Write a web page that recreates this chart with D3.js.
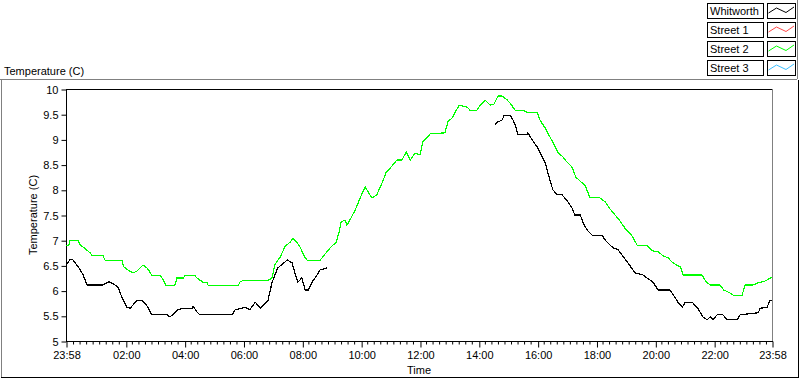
<!DOCTYPE html>
<html>
<head>
<meta charset="utf-8">
<script src="https://cdn.jsdelivr.net/npm/d3@7"></script>
<style>
  body { margin: 0; background: #fff; }
  svg { display: block; font-family: "Liberation Sans", Arial, sans-serif; font-size: 11px; }
</style>
</head>
<body>
<svg width="800" height="380"></svg>
<script>
// legend
var seriesNames = ["Whitworth", "Street 1", "Street 2", "Street 3"];
var seriesColors = ["#000000", "#ff4848", "#00ff00", "#3cc0ff"];

// y axis ticks
var tempTicks = [5, 5.5, 6, 6.5, 7, 7.5, 8, 8.5, 9, 9.5, 10];
var majorTimes = ["23:58", "02:00", "04:00", "06:00", "08:00", "10:00", "12:00",
                  "14:00", "16:00", "18:00", "20:00", "22:00", "23:58"];

// Whitworth (black) - null marks the gap in logging
var whitworthTime = ["23:58","00:06","00:12","00:20","00:27","00:33","00:41","01:13","01:24","01:28",
  "01:38","01:44","01:52","02:02","02:09","02:23","02:33","02:39","02:45","02:53",
  "03:24","03:30","03:36","03:46","03:57","04:15","04:17","04:25","04:31","05:37",
  "05:43","05:57","06:03","06:13","06:24","06:34","06:44","06:50","06:58","07:04",
  "07:10","07:25","07:29","07:39","07:45","07:51","07:59","08:06","08:12","08:20",
  "08:30","08:36","08:50","11:00",
  "14:33","14:39","14:47","14:52","15:04","15:10","15:14","15:20","15:38","15:40",
  "15:49","15:59","16:05","16:15","16:21","16:31","16:40","16:50","17:02","17:10",
  "17:16","17:27","17:33","17:41","17:51","18:11","18:18","18:28","18:34","18:44",
  "18:52","19:04","19:19","19:35","19:43","19:55","20:06","20:30","20:34","20:40",
  "20:46","20:55","21:01","21:15","21:25","21:31","21:37","21:46","21:52","21:58",
  "22:06","22:18","22:26","22:47","22:53","23:30","23:34","23:48","23:54","23:58"];
var whitworthTemp = [6.51,6.61,6.61,6.51,6.41,6.31,6.11,6.11,6.17,6.17,
  6.11,6.07,5.87,5.67,5.65,5.81,5.81,5.75,5.67,5.52,
  5.52,5.48,5.52,5.62,5.65,5.65,5.69,5.58,5.52,5.52,
  5.62,5.65,5.67,5.62,5.77,5.65,5.75,5.81,6.15,6.31,
  6.45,6.57,6.61,6.55,6.35,6.17,6.25,6.01,6.01,6.17,
  6.31,6.41,6.45,null,
  9.29,9.35,9.38,9.48,9.48,9.38,9.29,9.09,9.09,9.13,
  8.99,8.85,8.73,8.55,8.33,8.00,7.90,7.90,7.76,7.64,
  7.50,7.50,7.34,7.20,7.10,7.10,7.00,6.90,6.85,6.81,
  6.71,6.55,6.35,6.31,6.25,6.17,6.01,6.01,5.95,5.87,
  5.77,5.67,5.77,5.77,5.67,5.58,5.48,5.42,5.48,5.42,
  5.52,5.52,5.42,5.42,5.52,5.56,5.65,5.67,5.81,5.81];

// Street 2 (green)
var street2Time = ["23:58","00:04","00:06","00:22","00:27","00:35","00:47","00:51","01:13","01:18",
  "01:52","01:56","02:04","02:15","02:23","02:35","02:43","02:49","02:53","03:10",
  "03:14","03:22","03:40","03:44","03:57","04:01","04:21","04:25","04:37","04:46",
  "04:48","05:49","05:53","05:59","06:50","06:58","07:04","07:15","07:25","07:35",
  "07:41","07:49","07:55","08:06","08:10","08:36","08:42","08:50","08:59","09:09",
  "09:15","09:19","09:27","09:31","09:37","09:48","09:58","10:08","10:14","10:22",
  "10:32","10:45","10:51","10:59","11:13","11:23","11:32","11:40","11:50","12:00",
  "12:06","12:21","12:51","12:57","13:07","13:14","13:20","13:36","13:42","13:56",
  "14:03","14:13","14:23","14:31","14:39","14:47","14:56","15:04","15:14","15:30",
  "15:38","15:59","16:05","16:15","16:25","16:34","16:42","16:50","16:58","17:10",
  "17:18","17:27","17:37","17:47","18:07","18:18","18:26","18:38","18:48","18:58",
  "19:13","19:23","19:43","19:53","20:06","20:16","20:26","20:36","20:51","20:57",
  "21:35","21:44","21:52","22:12","22:20","22:33","22:39","22:57","23:03","23:19",
  "23:28","23:44","23:58"];
var street2Temp = [6.90,6.90,7.00,7.00,6.90,6.85,6.75,6.70,6.70,6.60,
  6.60,6.47,6.41,6.35,6.39,6.51,6.45,6.37,6.30,6.30,
  6.25,6.10,6.10,6.25,6.25,6.30,6.30,6.25,6.17,6.15,
  6.10,6.10,6.17,6.20,6.20,6.25,6.51,6.67,6.88,6.96,
  7.04,6.96,6.87,6.65,6.60,6.60,6.67,6.77,6.87,6.96,
  7.16,7.36,7.40,7.30,7.40,7.60,7.84,8.06,7.96,7.84,
  7.90,8.19,8.35,8.43,8.59,8.59,8.75,8.59,8.73,8.69,
  8.95,9.11,9.13,9.35,9.44,9.58,9.68,9.64,9.58,9.58,
  9.68,9.78,9.68,9.70,9.86,9.86,9.80,9.72,9.58,9.58,
  9.54,9.54,9.38,9.23,9.05,8.89,8.73,8.67,8.57,8.45,
  8.25,8.17,8.08,7.84,7.84,7.76,7.64,7.50,7.38,7.24,
  7.08,6.90,6.90,6.79,6.77,6.69,6.65,6.55,6.47,6.31,
  6.31,6.17,6.11,6.11,6.01,5.95,5.91,5.91,6.11,6.11,
  6.15,6.19,6.27];

// turn "HH:MM" lists into dates, rolling over midnight
function toDates(times){
	var day = 0, prev = -1;
	return times.map(function(s){
		var p = s.split(":").map(Number);
		var mins = p[0]*60 + p[1];
		if (mins < prev) day++;
		prev = mins;
		return new Date(2000, 0, 1 + day, p[0], p[1]);
	});
}

var svg = d3.select("svg");
var plotL = 66, plotR = 772, plotT = 89, plotB = 341;

var majorDates = toDates(majorTimes);
var x = d3.scaleTime().domain([majorDates[0], majorDates[majorDates.length-1]]).range([plotL, plotR]);
var y = d3.scaleLinear().domain([5, 10]).range([plotB, plotT]);

// outer panel frame
svg.append("line").attr("x1", 0).attr("x2", 797).attr("y1", 79.5).attr("y2", 79.5).attr("stroke", "#808080");
svg.append("line").attr("x1", 797.5).attr("x2", 797.5).attr("y1", 0).attr("y2", 79).attr("stroke", "#808080");
svg.append("line").attr("x1", 1.5).attr("x2", 1.5).attr("y1", 80).attr("y2", 378).attr("stroke", "#808080");
svg.append("line").attr("x1", 798.5).attr("x2", 798.5).attr("y1", 80).attr("y2", 378).attr("stroke", "#000");
svg.append("line").attr("x1", 1).attr("x2", 799).attr("y1", 377.5).attr("y2", 377.5).attr("stroke", "#000");

svg.append("text").attr("x", 4).attr("y", 75).text("Temperature (C)");

// plot frame
svg.append("line").attr("x1", plotL).attr("x2", plotR + 1).attr("y1", plotT + 0.5).attr("y2", plotT + 0.5).attr("stroke", "#000");
svg.append("line").attr("x1", plotR + 0.5).attr("x2", plotR + 0.5).attr("y1", plotT).attr("y2", plotB + 1).attr("stroke", "#808080");

// y axis
var yAxis = svg.append("g").attr("transform", "translate(" + (plotL + 0.5) + ",0.5)")
	.call(d3.axisLeft(y).tickValues(tempTicks).tickSize(5).tickPadding(3).tickFormat(function(d){ return d; }));
yAxis.select(".domain").attr("d", "M0," + plotT + "V" + plotB);
yAxis.selectAll("text").attr("font-size", 11).attr("font-family", "Liberation Sans, Arial, sans-serif").attr("fill", "#000");

// minor x ticks every 1/108 of the day span
var minorDates = d3.range(1, 108).map(function(k){
	return new Date(+majorDates[0] + k * (majorDates[12] - majorDates[0]) / 108);
}).filter(function(d){
	return majorDates.every(function(m){ return Math.abs(x(m) - x(d)) > 2; });
});
svg.append("g").attr("transform", "translate(0.5," + (plotB + 0.5) + ")")
	.call(d3.axisBottom(x).tickValues(minorDates).tickSize(3).tickFormat(""))
	.select(".domain").remove();

var xAxis = svg.append("g").attr("transform", "translate(0.5," + (plotB + 0.5) + ")")
	.call(d3.axisBottom(x).tickValues(majorDates).tickSize(6).tickPadding(4).tickFormat(d3.timeFormat("%H:%M")));
xAxis.select(".domain").attr("d", "M" + (plotL - 0.5) + ",0H" + (plotR + 0.5));
xAxis.selectAll("text").attr("font-size", 11).attr("font-family", "Liberation Sans, Arial, sans-serif").attr("fill", "#000");

svg.append("text").attr("x", 419).attr("y", 374).attr("text-anchor", "middle").text("Time");
svg.append("text").attr("transform", "translate(37,215) rotate(-90)").attr("text-anchor", "middle").text("Temperature (C)");

// lines
function drawSeries(times, temps, color){
	var dates = toDates(times);
	var pts = dates.map(function(d, i){ return {t: d, v: temps[i]}; });
	var line = d3.line()
		.defined(function(p){ return p.v !== null; })
		.x(function(p){ return x(p.t); })
		.y(function(p){ return y(p.v); });
	svg.append("path").datum(pts)
		.attr("d", line)
		.attr("fill", "none")
		.attr("stroke", color)
		.attr("stroke-width", 1.2)
		.attr("shape-rendering", "crispEdges");
}
drawSeries(street2Time, street2Temp, seriesColors[2]);
drawSeries(whitworthTime, whitworthTemp, seriesColors[0]);

// legend
var zig = [[1.5, 10], [9.5, 5], [19, 9.5], [27, 4]];
var legend = svg.selectAll("g.legend").data(seriesNames).enter()
	.append("g").attr("class", "legend")
	.attr("transform", function(d, i){ return "translate(707," + (3 + i * 19) + ")"; });
legend.append("rect").attr("x", 0.5).attr("y", 0.5).attr("width", 56).attr("height", 15)
	.attr("fill", "#fff").attr("stroke", "#000");
legend.append("text").attr("x", 3).attr("y", 12).text(function(d){ return d; });
legend.append("rect").attr("x", 60.5).attr("y", 0.5).attr("width", 28).attr("height", 15)
	.attr("fill", "#fff").attr("stroke", "#000");
legend.append("path")
	.attr("d", function(){ return d3.line()(zig.map(function(p){ return [60 + p[0], p[1]]; })); })
	.attr("fill", "none")
	.attr("stroke", function(d, i){ return seriesColors[i]; });
</script>
</body>
</html>
